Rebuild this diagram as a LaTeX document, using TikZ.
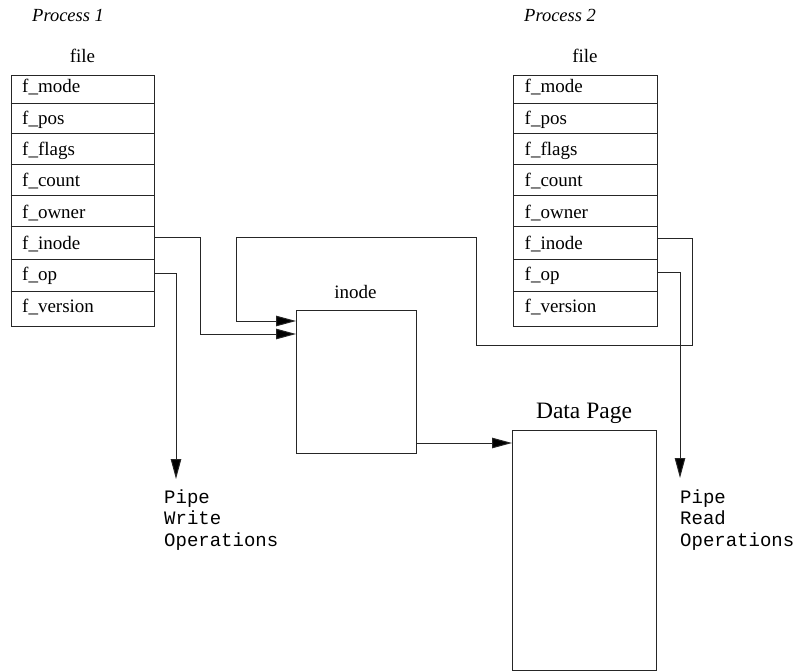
\documentclass[tikz,border=0pt]{standalone}
\usepackage{fontspec}
\setmainfont{Liberation Serif}
\setmonofont{Liberation Mono}
\usetikzlibrary{arrows.meta}
\begin{document}
\begin{tikzpicture}[x=1pt,y=-1pt,
  every node/.style={font=\fontsize{19}{21.5}\selectfont},
  field/.style={inner xsep=11.5pt, inner ysep=2pt, text width=120.5pt, align=left, anchor=base west},
  tbl/.style={draw=black!85, line width=1pt, minimum width=143.5pt, minimum height=251pt, anchor=north west, inner sep=0pt},
  box/.style={draw=black!85, line width=1pt, inner sep=0pt, anchor=north west},
  sep/.style={draw=black!85, line width=1pt},
  conn/.style={draw=black!85, line width=1pt},
  arr/.style={conn, -{Triangle[length=20pt,width=10.5pt,fill=black]}},
  lbl/.style={anchor=base, inner sep=0pt},
  ops/.style={font=\fontsize{19}{21.5}\selectfont\ttfamily, align=left, anchor=north west, inner sep=0pt},
]
\useasboundingbox (0,0) rectangle (794,671);

% Process labels
\node[lbl, anchor=base west, font=\fontsize{18.5}{22}\selectfont\itshape] (proc1) at (32,21.5) {Process 1};
\node[lbl, anchor=base west, font=\fontsize{18.5}{22}\selectfont\itshape] (proc2) at (524,21.5) {Process 2};

% file tables
\node[tbl] (p1) at (10.5,75) {};
\node[tbl] (p2) at (513,75) {};
\node[lbl] (p1label) at (82.5,63) {file};
\node[lbl] (p2label) at (585,63) {file};

\foreach \t in {p1,p2}{
  \foreach \y in {104,133.5,164.5,195.5,226.5,259,291}
    \draw[sep] (\t.west |- 0,\y) -- (\t.east |- 0,\y);
}

\foreach \t/\x in {p1/10.5,p2/513}{
  \foreach \n/\s [count=\i from 0] in {mode/f\_mode,pos/f\_pos,flags/f\_flags,count/f\_count,owner/f\_owner,inode/f\_inode,op/f\_op,version/f\_version}
    \node[field] (\t\n) at (\x,{93+31.3*\i}) {\s};
}

% inode and data page
\node[box, minimum width=119.5pt, minimum height=143pt] (inode) at (296,310) {};
\node[lbl] (inodelabel) at (355.5,298) {inode};
\node[box, minimum width=144pt, minimum height=240pt] (dp) at (512,430) {};
\node[lbl, font=\fontsize{23.5}{26}\selectfont] (dplabel) at (584,418) {Data Page};

% operations
\node[ops] (pw) at (164,489.5) {Pipe\\Write\\Operations};
\node[ops] (pr) at (680,489.5) {Pipe\\Read\\Operations};
\coordinate (pwtip) at (176,479);
\coordinate (prtip) at (680,478);

% connectors
\draw[arr] ([yshift=12pt]p1inode.base east) -- ++(46,0) |- ([yshift=-24pt]inode.north west);
\draw[arr] ([yshift=11.5pt]p2inode.base east) -- ++(35.5,0) -- ++(0,107) -- ++(-216,0) -- ++(0,-108) -- ++(-240,0) |- ([yshift=-11pt]inode.north west);
\draw[arr] ([yshift=7pt]p1op.base east) -| (pwtip);
\draw[arr] ([yshift=8pt]p2op.base east) -| (prtip);
\draw[arr] ([yshift=11pt]inode.south east) -- ([yshift=11pt]inode.south east -| dp.west);
\end{tikzpicture}
\end{document}
